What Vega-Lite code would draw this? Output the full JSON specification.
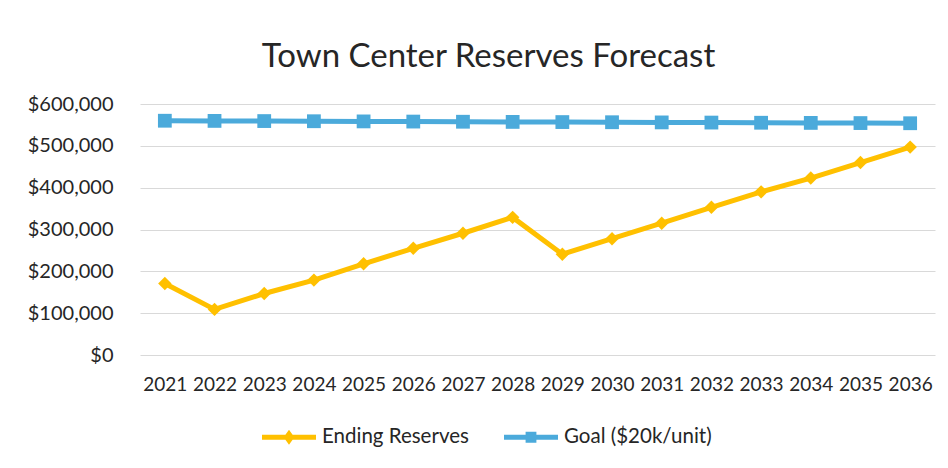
{
  "$schema": "https://vega.github.io/schema/vega-lite/v6.json",
  "width": 795,
  "height": 251,
  "autosize": {"type": "none"},
  "padding": {"left": 140, "top": 104, "right": 13, "bottom": 113},
  "background": "white",
  "config": {"view": {"stroke": null}},
  "title": {"text": "Town Center Reserves Forecast", "font": "Lato", "fontSize": 33, "fontWeight": "normal", "color": "#262626", "anchor": "middle", "frame": "group", "dx": -49, "offset": 20},
  "data": {"values": [
    {"year": "2021", "series": "Ending Reserves", "value": 171000},
    {"year": "2022", "series": "Ending Reserves", "value": 109000},
    {"year": "2023", "series": "Ending Reserves", "value": 147000},
    {"year": "2024", "series": "Ending Reserves", "value": 179000},
    {"year": "2025", "series": "Ending Reserves", "value": 218000},
    {"year": "2026", "series": "Ending Reserves", "value": 255000},
    {"year": "2027", "series": "Ending Reserves", "value": 291000},
    {"year": "2028", "series": "Ending Reserves", "value": 329000},
    {"year": "2029", "series": "Ending Reserves", "value": 241000},
    {"year": "2030", "series": "Ending Reserves", "value": 278000},
    {"year": "2031", "series": "Ending Reserves", "value": 315000},
    {"year": "2032", "series": "Ending Reserves", "value": 353000},
    {"year": "2033", "series": "Ending Reserves", "value": 390000},
    {"year": "2034", "series": "Ending Reserves", "value": 423000},
    {"year": "2035", "series": "Ending Reserves", "value": 460000},
    {"year": "2036", "series": "Ending Reserves", "value": 497000},
    {"year": "2021", "series": "Goal ($20k/unit)", "value": 560000},
    {"year": "2022", "series": "Goal ($20k/unit)", "value": 559600},
    {"year": "2023", "series": "Goal ($20k/unit)", "value": 559200},
    {"year": "2024", "series": "Goal ($20k/unit)", "value": 558800},
    {"year": "2025", "series": "Goal ($20k/unit)", "value": 558400},
    {"year": "2026", "series": "Goal ($20k/unit)", "value": 558000},
    {"year": "2027", "series": "Goal ($20k/unit)", "value": 557600},
    {"year": "2028", "series": "Goal ($20k/unit)", "value": 557200},
    {"year": "2029", "series": "Goal ($20k/unit)", "value": 556800},
    {"year": "2030", "series": "Goal ($20k/unit)", "value": 556400},
    {"year": "2031", "series": "Goal ($20k/unit)", "value": 556000},
    {"year": "2032", "series": "Goal ($20k/unit)", "value": 555600},
    {"year": "2033", "series": "Goal ($20k/unit)", "value": 555200},
    {"year": "2034", "series": "Goal ($20k/unit)", "value": 554800},
    {"year": "2035", "series": "Goal ($20k/unit)", "value": 554400},
    {"year": "2036", "series": "Goal ($20k/unit)", "value": 554000}
  ]},
  "encoding": {
    "x": {"field": "year", "type": "ordinal", "scale": {"type": "point", "padding": 0.5},
      "axis": {"title": null, "labelAngle": 0, "labelFont": "Lato", "labelFontSize": 19, "labelColor": "#262626", "domain": false, "ticks": false, "labelPadding": 20, "grid": false, "labelOverlap": false}},
    "y": {"field": "value", "type": "quantitative", "scale": {"domain": [0, 600000]},
      "axis": {"title": null, "format": "$,.0f", "values": [0, 100000, 200000, 300000, 400000, 500000, 600000], "domain": false, "ticks": false, "labelPadding": 27, "gridColor": "#d9d9d9", "gridWidth": 1, "labelFont": "Lato", "labelFontSize": 20, "labelColor": "#262626"}},
    "color": {"field": "series", "type": "nominal", "scale": {"domain": ["Ending Reserves", "Goal ($20k/unit)"], "range": ["#FFC000", "#4BAADB"]}, "legend": null}
  },
  "layer": [
    {"mark": {"type": "point", "filled": true, "opacity": 0},
      "encoding": {
        "color": {"field": "series", "type": "nominal",
          "legend": {"title": null, "orient": "none", "legendX": 122, "legendY": 306, "direction": "horizontal", "padding": 0, "labelFont": "Lato", "labelFontSize": 20.5, "labelColor": "#262626", "symbolSize": 2916, "symbolOpacity": 1, "symbolStrokeWidth": 0, "labelOffset": 6, "columnPadding": 35}},
        "shape": {"field": "series", "type": "nominal",
          "scale": {"domain": ["Ending Reserves", "Goal ($20k/unit)"], "range": ["M-1,-0.09H1V0.09H-1Z M0,-0.28L0.2,0L0,0.28L-0.2,0Z", "M-1,-0.09H1V0.09H-1Z M-0.2,-0.2H0.2V0.2H-0.2Z"]},
          "legend": {"title": null, "orient": "none", "legendX": 122, "legendY": 306, "direction": "horizontal", "padding": 0, "labelFont": "Lato", "labelFontSize": 20.5, "labelColor": "#262626", "symbolSize": 2916, "symbolOpacity": 1, "symbolStrokeWidth": 0, "labelOffset": 6, "columnPadding": 35}}
      }},
    {"mark": {"type": "line", "strokeWidth": 5}},
    {"transform": [{"filter": "datum.series === 'Ending Reserves'"}], "mark": {"type": "point", "shape": "diamond", "filled": true, "size": 180, "opacity": 1}},
    {"transform": [{"filter": "datum.series !== 'Ending Reserves'"}], "mark": {"type": "point", "shape": "square", "filled": true, "size": 190, "opacity": 1}}
  ]
}
